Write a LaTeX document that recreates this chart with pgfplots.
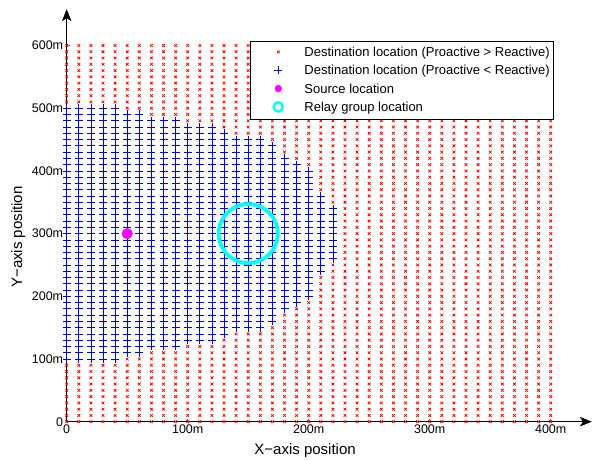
\documentclass[border=0pt]{standalone}
\usepackage{pgfplots}
\pgfplotsset{compat=1.18}
\usepackage{fontspec}
\setmainfont{Liberation Sans}
\usetikzlibrary{arrows.meta}
\definecolor{srcmag}{rgb}{1,0,1}
\definecolor{relaycyan}{rgb}{0,1,1}
\definecolor{ptred}{rgb}{1,0,0}
\definecolor{ptblue}{rgb}{0,0,1}

\begin{document}
\begin{tikzpicture}
\begin{axis}[
  at={(0,0)}, anchor=origin,
  x=1.21pt, y=0.627pt,
  xmin=0, xmax=434, ymin=0, ymax=658,
  axis lines=left,
  axis line style={line width=1pt, -{Stealth[length=12pt,width=9.5pt,inset=3pt]}},
  clip=false,
  xtick={0,100,200,300,400}, xticklabels={0,100m,200m,300m,400m},
  ytick={0,100,200,300,400,500,600}, yticklabels={0,100m,200m,300m,400m,500m,600m},
  tick align=inside, major tick length=3pt, tick style={black!60, line width=0.6pt},
  tick label style={font=\fontsize{12.5}{14}\selectfont},
  xlabel={X−axis position}, ylabel={Y−axis position},
  label style={font=\fontsize{15}{17}\selectfont},
  x label style={at={([yshift=-29pt]axis cs:197,0)}, anchor=center},
  y label style={at={([xshift=-48.5pt]axis cs:0,294.6)}, anchor=center},
  legend cell align=left,
  legend image code/.code={\path (-24pt,0pt) (9pt,0pt); \draw[#1, only marks] plot coordinates {(0pt,1.2pt)};},
  legend style={at={(axis cs:401.9,606.5)}, anchor=north east, draw=black, fill=white,
    font=\fontsize{13}{15}\selectfont, inner xsep=3pt, inner ysep=5.3pt, row sep=5.8pt,
    nodes={inner sep=0pt, text height=9.5pt, text depth=3pt},
    /tikz/every odd column/.append style={column sep=16pt}},
]

% grid points where the proactive scheme costs more
\addplot[only marks, mark=x, ptred, mark size=1.9pt, line width=0.75pt] table {
x y
0 0
0 10
0 20
0 30
0 40
0 50
0 60
0 70
0 80
0 90
0 510
0 520
0 530
0 540
0 550
0 560
0 570
0 580
0 590
0 600
10 0
10 10
10 20
10 30
10 40
10 50
10 60
10 70
10 80
10 90
10 510
10 520
10 530
10 540
10 550
10 560
10 570
10 580
10 590
10 600
20 0
20 10
20 20
20 30
20 40
20 50
20 60
20 70
20 80
20 90
20 510
20 520
20 530
20 540
20 550
20 560
20 570
20 580
20 590
20 600
30 0
30 10
30 20
30 30
30 40
30 50
30 60
30 70
30 80
30 90
30 510
30 520
30 530
30 540
30 550
30 560
30 570
30 580
30 590
30 600
40 0
40 10
40 20
40 30
40 40
40 50
40 60
40 70
40 80
40 90
40 510
40 520
40 530
40 540
40 550
40 560
40 570
40 580
40 590
40 600
50 0
50 10
50 20
50 30
50 40
50 50
50 60
50 70
50 80
50 90
50 100
50 500
50 510
50 520
50 530
50 540
50 550
50 560
50 570
50 580
50 590
50 600
60 0
60 10
60 20
60 30
60 40
60 50
60 60
60 70
60 80
60 90
60 100
60 500
60 510
60 520
60 530
60 540
60 550
60 560
60 570
60 580
60 590
60 600
70 0
70 10
70 20
70 30
70 40
70 50
70 60
70 70
70 80
70 90
70 100
70 110
70 490
70 500
70 510
70 520
70 530
70 540
70 550
70 560
70 570
70 580
70 590
70 600
80 0
80 10
80 20
80 30
80 40
80 50
80 60
80 70
80 80
80 90
80 100
80 110
80 490
80 500
80 510
80 520
80 530
80 540
80 550
80 560
80 570
80 580
80 590
80 600
90 0
90 10
90 20
90 30
90 40
90 50
90 60
90 70
90 80
90 90
90 100
90 110
90 490
90 500
90 510
90 520
90 530
90 540
90 550
90 560
90 570
90 580
90 590
90 600
100 0
100 10
100 20
100 30
100 40
100 50
100 60
100 70
100 80
100 90
100 100
100 110
100 120
100 480
100 490
100 500
100 510
100 520
100 530
100 540
100 550
100 560
100 570
100 580
100 590
100 600
110 0
110 10
110 20
110 30
110 40
110 50
110 60
110 70
110 80
110 90
110 100
110 110
110 120
110 480
110 490
110 500
110 510
110 520
110 530
110 540
110 550
110 560
110 570
110 580
110 590
110 600
120 0
120 10
120 20
120 30
120 40
120 50
120 60
120 70
120 80
120 90
120 100
120 110
120 120
120 480
120 490
120 500
120 510
120 520
120 530
120 540
120 550
120 560
120 570
120 580
120 590
120 600
130 0
130 10
130 20
130 30
130 40
130 50
130 60
130 70
130 80
130 90
130 100
130 110
130 120
130 130
130 470
130 480
130 490
130 500
130 510
130 520
130 530
130 540
130 550
130 560
130 570
130 580
130 590
130 600
140 0
140 10
140 20
140 30
140 40
140 50
140 60
140 70
140 80
140 90
140 100
140 110
140 120
140 130
140 140
140 460
140 470
140 480
140 490
140 500
140 510
140 520
140 530
140 540
140 550
140 560
140 570
140 580
140 590
140 600
150 0
150 10
150 20
150 30
150 40
150 50
150 60
150 70
150 80
150 90
150 100
150 110
150 120
150 130
150 140
150 460
150 470
150 480
150 490
150 500
150 510
150 520
150 530
150 540
150 550
150 560
150 570
150 580
150 590
150 600
160 0
160 10
160 20
160 30
160 40
160 50
160 60
160 70
160 80
160 90
160 100
160 110
160 120
160 130
160 140
160 460
160 470
160 480
160 490
160 500
160 510
160 520
160 530
160 540
160 550
160 560
160 570
160 580
160 590
160 600
170 0
170 10
170 20
170 30
170 40
170 50
170 60
170 70
170 80
170 90
170 100
170 110
170 120
170 130
170 140
170 150
170 450
170 460
170 470
170 480
170 490
170 500
170 510
170 520
170 530
170 540
170 550
170 560
170 570
170 580
170 590
170 600
180 0
180 10
180 20
180 30
180 40
180 50
180 60
180 70
180 80
180 90
180 100
180 110
180 120
180 130
180 140
180 150
180 160
180 170
180 430
180 440
180 450
180 460
180 470
180 480
180 490
180 500
180 510
180 520
180 530
180 540
180 550
180 560
180 570
180 580
180 590
180 600
190 0
190 10
190 20
190 30
190 40
190 50
190 60
190 70
190 80
190 90
190 100
190 110
190 120
190 130
190 140
190 150
190 160
190 170
190 180
190 420
190 430
190 440
190 450
190 460
190 470
190 480
190 490
190 500
190 510
190 520
190 530
190 540
190 550
190 560
190 570
190 580
190 590
190 600
200 0
200 10
200 20
200 30
200 40
200 50
200 60
200 70
200 80
200 90
200 100
200 110
200 120
200 130
200 140
200 150
200 160
200 170
200 180
200 190
200 410
200 420
200 430
200 440
200 450
200 460
200 470
200 480
200 490
200 500
200 510
200 520
200 530
200 540
200 550
200 560
200 570
200 580
200 590
200 600
210 0
210 10
210 20
210 30
210 40
210 50
210 60
210 70
210 80
210 90
210 100
210 110
210 120
210 130
210 140
210 150
210 160
210 170
210 180
210 190
210 200
210 210
210 220
210 230
210 370
210 380
210 390
210 400
210 410
210 420
210 430
210 440
210 450
210 460
210 470
210 480
210 490
210 500
210 510
210 520
210 530
210 540
210 550
210 560
210 570
210 580
210 590
210 600
220 0
220 10
220 20
220 30
220 40
220 50
220 60
220 70
220 80
220 90
220 100
220 110
220 120
220 130
220 140
220 150
220 160
220 170
220 180
220 190
220 200
220 210
220 220
220 230
220 240
220 250
220 350
220 360
220 370
220 380
220 390
220 400
220 410
220 420
220 430
220 440
220 450
220 460
220 470
220 480
220 490
220 500
220 510
220 520
220 530
220 540
220 550
220 560
220 570
220 580
220 590
220 600
230 0
230 10
230 20
230 30
230 40
230 50
230 60
230 70
230 80
230 90
230 100
230 110
230 120
230 130
230 140
230 150
230 160
230 170
230 180
230 190
230 200
230 210
230 220
230 230
230 240
230 250
230 260
230 270
230 280
230 290
230 300
230 310
230 320
230 330
230 340
230 350
230 360
230 370
230 380
230 390
230 400
230 410
230 420
230 430
230 440
230 450
230 460
230 470
230 480
230 490
230 500
230 510
230 520
230 530
230 540
230 550
230 560
230 570
230 580
230 590
230 600
240 0
240 10
240 20
240 30
240 40
240 50
240 60
240 70
240 80
240 90
240 100
240 110
240 120
240 130
240 140
240 150
240 160
240 170
240 180
240 190
240 200
240 210
240 220
240 230
240 240
240 250
240 260
240 270
240 280
240 290
240 300
240 310
240 320
240 330
240 340
240 350
240 360
240 370
240 380
240 390
240 400
240 410
240 420
240 430
240 440
240 450
240 460
240 470
240 480
240 490
240 500
240 510
240 520
240 530
240 540
240 550
240 560
240 570
240 580
240 590
240 600
250 0
250 10
250 20
250 30
250 40
250 50
250 60
250 70
250 80
250 90
250 100
250 110
250 120
250 130
250 140
250 150
250 160
250 170
250 180
250 190
250 200
250 210
250 220
250 230
250 240
250 250
250 260
250 270
250 280
250 290
250 300
250 310
250 320
250 330
250 340
250 350
250 360
250 370
250 380
250 390
250 400
250 410
250 420
250 430
250 440
250 450
250 460
250 470
250 480
250 490
250 500
250 510
250 520
250 530
250 540
250 550
250 560
250 570
250 580
250 590
250 600
260 0
260 10
260 20
260 30
260 40
260 50
260 60
260 70
260 80
260 90
260 100
260 110
260 120
260 130
260 140
260 150
260 160
260 170
260 180
260 190
260 200
260 210
260 220
260 230
260 240
260 250
260 260
260 270
260 280
260 290
260 300
260 310
260 320
260 330
260 340
260 350
260 360
260 370
260 380
260 390
260 400
260 410
260 420
260 430
260 440
260 450
260 460
260 470
260 480
260 490
260 500
260 510
260 520
260 530
260 540
260 550
260 560
260 570
260 580
260 590
260 600
270 0
270 10
270 20
270 30
270 40
270 50
270 60
270 70
270 80
270 90
270 100
270 110
270 120
270 130
270 140
270 150
270 160
270 170
270 180
270 190
270 200
270 210
270 220
270 230
270 240
270 250
270 260
270 270
270 280
270 290
270 300
270 310
270 320
270 330
270 340
270 350
270 360
270 370
270 380
270 390
270 400
270 410
270 420
270 430
270 440
270 450
270 460
270 470
270 480
270 490
270 500
270 510
270 520
270 530
270 540
270 550
270 560
270 570
270 580
270 590
270 600
280 0
280 10
280 20
280 30
280 40
280 50
280 60
280 70
280 80
280 90
280 100
280 110
280 120
280 130
280 140
280 150
280 160
280 170
280 180
280 190
280 200
280 210
280 220
280 230
280 240
280 250
280 260
280 270
280 280
280 290
280 300
280 310
280 320
280 330
280 340
280 350
280 360
280 370
280 380
280 390
280 400
280 410
280 420
280 430
280 440
280 450
280 460
280 470
280 480
280 490
280 500
280 510
280 520
280 530
280 540
280 550
280 560
280 570
280 580
280 590
280 600
290 0
290 10
290 20
290 30
290 40
290 50
290 60
290 70
290 80
290 90
290 100
290 110
290 120
290 130
290 140
290 150
290 160
290 170
290 180
290 190
290 200
290 210
290 220
290 230
290 240
290 250
290 260
290 270
290 280
290 290
290 300
290 310
290 320
290 330
290 340
290 350
290 360
290 370
290 380
290 390
290 400
290 410
290 420
290 430
290 440
290 450
290 460
290 470
290 480
290 490
290 500
290 510
290 520
290 530
290 540
290 550
290 560
290 570
290 580
290 590
290 600
300 0
300 10
300 20
300 30
300 40
300 50
300 60
300 70
300 80
300 90
300 100
300 110
300 120
300 130
300 140
300 150
300 160
300 170
300 180
300 190
300 200
300 210
300 220
300 230
300 240
300 250
300 260
300 270
300 280
300 290
300 300
300 310
300 320
300 330
300 340
300 350
300 360
300 370
300 380
300 390
300 400
300 410
300 420
300 430
300 440
300 450
300 460
300 470
300 480
300 490
300 500
300 510
300 520
300 530
300 540
300 550
300 560
300 570
300 580
300 590
300 600
310 0
310 10
310 20
310 30
310 40
310 50
310 60
310 70
310 80
310 90
310 100
310 110
310 120
310 130
310 140
310 150
310 160
310 170
310 180
310 190
310 200
310 210
310 220
310 230
310 240
310 250
310 260
310 270
310 280
310 290
310 300
310 310
310 320
310 330
310 340
310 350
310 360
310 370
310 380
310 390
310 400
310 410
310 420
310 430
310 440
310 450
310 460
310 470
310 480
310 490
310 500
310 510
310 520
310 530
310 540
310 550
310 560
310 570
310 580
310 590
310 600
320 0
320 10
320 20
320 30
320 40
320 50
320 60
320 70
320 80
320 90
320 100
320 110
320 120
320 130
320 140
320 150
320 160
320 170
320 180
320 190
320 200
320 210
320 220
320 230
320 240
320 250
320 260
320 270
320 280
320 290
320 300
320 310
320 320
320 330
320 340
320 350
320 360
320 370
320 380
320 390
320 400
320 410
320 420
320 430
320 440
320 450
320 460
320 470
320 480
320 490
320 500
320 510
320 520
320 530
320 540
320 550
320 560
320 570
320 580
320 590
320 600
330 0
330 10
330 20
330 30
330 40
330 50
330 60
330 70
330 80
330 90
330 100
330 110
330 120
330 130
330 140
330 150
330 160
330 170
330 180
330 190
330 200
330 210
330 220
330 230
330 240
330 250
330 260
330 270
330 280
330 290
330 300
330 310
330 320
330 330
330 340
330 350
330 360
330 370
330 380
330 390
330 400
330 410
330 420
330 430
330 440
330 450
330 460
330 470
330 480
330 490
330 500
330 510
330 520
330 530
330 540
330 550
330 560
330 570
330 580
330 590
330 600
340 0
340 10
340 20
340 30
340 40
340 50
340 60
340 70
340 80
340 90
340 100
340 110
340 120
340 130
340 140
340 150
340 160
340 170
340 180
340 190
340 200
340 210
340 220
340 230
340 240
340 250
340 260
340 270
340 280
340 290
340 300
340 310
340 320
340 330
340 340
340 350
340 360
340 370
340 380
340 390
340 400
340 410
340 420
340 430
340 440
340 450
340 460
340 470
340 480
340 490
340 500
340 510
340 520
340 530
340 540
340 550
340 560
340 570
340 580
340 590
340 600
350 0
350 10
350 20
350 30
350 40
350 50
350 60
350 70
350 80
350 90
350 100
350 110
350 120
350 130
350 140
350 150
350 160
350 170
350 180
350 190
350 200
350 210
350 220
350 230
350 240
350 250
350 260
350 270
350 280
350 290
350 300
350 310
350 320
350 330
350 340
350 350
350 360
350 370
350 380
350 390
350 400
350 410
350 420
350 430
350 440
350 450
350 460
350 470
350 480
350 490
350 500
350 510
350 520
350 530
350 540
350 550
350 560
350 570
350 580
350 590
350 600
360 0
360 10
360 20
360 30
360 40
360 50
360 60
360 70
360 80
360 90
360 100
360 110
360 120
360 130
360 140
360 150
360 160
360 170
360 180
360 190
360 200
360 210
360 220
360 230
360 240
360 250
360 260
360 270
360 280
360 290
360 300
360 310
360 320
360 330
360 340
360 350
360 360
360 370
360 380
360 390
360 400
360 410
360 420
360 430
360 440
360 450
360 460
360 470
360 480
360 490
360 500
360 510
360 520
360 530
360 540
360 550
360 560
360 570
360 580
360 590
360 600
370 0
370 10
370 20
370 30
370 40
370 50
370 60
370 70
370 80
370 90
370 100
370 110
370 120
370 130
370 140
370 150
370 160
370 170
370 180
370 190
370 200
370 210
370 220
370 230
370 240
370 250
370 260
370 270
370 280
370 290
370 300
370 310
370 320
370 330
370 340
370 350
370 360
370 370
370 380
370 390
370 400
370 410
370 420
370 430
370 440
370 450
370 460
370 470
370 480
370 490
370 500
370 510
370 520
370 530
370 540
370 550
370 560
370 570
370 580
370 590
370 600
380 0
380 10
380 20
380 30
380 40
380 50
380 60
380 70
380 80
380 90
380 100
380 110
380 120
380 130
380 140
380 150
380 160
380 170
380 180
380 190
380 200
380 210
380 220
380 230
380 240
380 250
380 260
380 270
380 280
380 290
380 300
380 310
380 320
380 330
380 340
380 350
380 360
380 370
380 380
380 390
380 400
380 410
380 420
380 430
380 440
380 450
380 460
380 470
380 480
380 490
380 500
380 510
380 520
380 530
380 540
380 550
380 560
380 570
380 580
380 590
380 600
390 0
390 10
390 20
390 30
390 40
390 50
390 60
390 70
390 80
390 90
390 100
390 110
390 120
390 130
390 140
390 150
390 160
390 170
390 180
390 190
390 200
390 210
390 220
390 230
390 240
390 250
390 260
390 270
390 280
390 290
390 300
390 310
390 320
390 330
390 340
390 350
390 360
390 370
390 380
390 390
390 400
390 410
390 420
390 430
390 440
390 450
390 460
390 470
390 480
390 490
390 500
390 510
390 520
390 530
390 540
390 550
390 560
390 570
390 580
390 590
390 600
400 0
400 10
400 20
400 30
400 40
400 50
400 60
400 70
400 80
400 90
400 100
400 110
400 120
400 130
400 140
400 150
400 160
400 170
400 180
400 190
400 200
400 210
400 220
400 230
400 240
400 250
400 260
400 270
400 280
400 290
400 300
400 310
400 320
400 330
400 340
400 350
400 360
400 370
400 380
400 390
400 400
400 410
400 420
400 430
400 440
400 450
400 460
400 470
400 480
400 490
400 500
400 510
400 520
400 530
400 540
400 550
400 560
400 570
400 580
400 590
400 600
};
\addlegendentry{Destination location (Proactive > Reactive)}

% grid points where the proactive scheme costs less
\addplot[only marks, mark=+, ptblue, mark size=4pt, line width=0.7pt] table {
x y
0 100
0 110
0 120
0 130
0 140
0 150
0 160
0 170
0 180
0 190
0 200
0 210
0 220
0 230
0 240
0 250
0 260
0 270
0 280
0 290
0 300
0 310
0 320
0 330
0 340
0 350
0 360
0 370
0 380
0 390
0 400
0 410
0 420
0 430
0 440
0 450
0 460
0 470
0 480
0 490
0 500
10 100
10 110
10 120
10 130
10 140
10 150
10 160
10 170
10 180
10 190
10 200
10 210
10 220
10 230
10 240
10 250
10 260
10 270
10 280
10 290
10 300
10 310
10 320
10 330
10 340
10 350
10 360
10 370
10 380
10 390
10 400
10 410
10 420
10 430
10 440
10 450
10 460
10 470
10 480
10 490
10 500
20 100
20 110
20 120
20 130
20 140
20 150
20 160
20 170
20 180
20 190
20 200
20 210
20 220
20 230
20 240
20 250
20 260
20 270
20 280
20 290
20 300
20 310
20 320
20 330
20 340
20 350
20 360
20 370
20 380
20 390
20 400
20 410
20 420
20 430
20 440
20 450
20 460
20 470
20 480
20 490
20 500
30 100
30 110
30 120
30 130
30 140
30 150
30 160
30 170
30 180
30 190
30 200
30 210
30 220
30 230
30 240
30 250
30 260
30 270
30 280
30 290
30 300
30 310
30 320
30 330
30 340
30 350
30 360
30 370
30 380
30 390
30 400
30 410
30 420
30 430
30 440
30 450
30 460
30 470
30 480
30 490
30 500
40 100
40 110
40 120
40 130
40 140
40 150
40 160
40 170
40 180
40 190
40 200
40 210
40 220
40 230
40 240
40 250
40 260
40 270
40 280
40 290
40 300
40 310
40 320
40 330
40 340
40 350
40 360
40 370
40 380
40 390
40 400
40 410
40 420
40 430
40 440
40 450
40 460
40 470
40 480
40 490
40 500
50 110
50 120
50 130
50 140
50 150
50 160
50 170
50 180
50 190
50 200
50 210
50 220
50 230
50 240
50 250
50 260
50 270
50 280
50 290
50 300
50 310
50 320
50 330
50 340
50 350
50 360
50 370
50 380
50 390
50 400
50 410
50 420
50 430
50 440
50 450
50 460
50 470
50 480
50 490
60 110
60 120
60 130
60 140
60 150
60 160
60 170
60 180
60 190
60 200
60 210
60 220
60 230
60 240
60 250
60 260
60 270
60 280
60 290
60 300
60 310
60 320
60 330
60 340
60 350
60 360
60 370
60 380
60 390
60 400
60 410
60 420
60 430
60 440
60 450
60 460
60 470
60 480
60 490
70 120
70 130
70 140
70 150
70 160
70 170
70 180
70 190
70 200
70 210
70 220
70 230
70 240
70 250
70 260
70 270
70 280
70 290
70 300
70 310
70 320
70 330
70 340
70 350
70 360
70 370
70 380
70 390
70 400
70 410
70 420
70 430
70 440
70 450
70 460
70 470
70 480
80 120
80 130
80 140
80 150
80 160
80 170
80 180
80 190
80 200
80 210
80 220
80 230
80 240
80 250
80 260
80 270
80 280
80 290
80 300
80 310
80 320
80 330
80 340
80 350
80 360
80 370
80 380
80 390
80 400
80 410
80 420
80 430
80 440
80 450
80 460
80 470
80 480
90 120
90 130
90 140
90 150
90 160
90 170
90 180
90 190
90 200
90 210
90 220
90 230
90 240
90 250
90 260
90 270
90 280
90 290
90 300
90 310
90 320
90 330
90 340
90 350
90 360
90 370
90 380
90 390
90 400
90 410
90 420
90 430
90 440
90 450
90 460
90 470
90 480
100 130
100 140
100 150
100 160
100 170
100 180
100 190
100 200
100 210
100 220
100 230
100 240
100 250
100 260
100 270
100 280
100 290
100 300
100 310
100 320
100 330
100 340
100 350
100 360
100 370
100 380
100 390
100 400
100 410
100 420
100 430
100 440
100 450
100 460
100 470
110 130
110 140
110 150
110 160
110 170
110 180
110 190
110 200
110 210
110 220
110 230
110 240
110 250
110 260
110 270
110 280
110 290
110 300
110 310
110 320
110 330
110 340
110 350
110 360
110 370
110 380
110 390
110 400
110 410
110 420
110 430
110 440
110 450
110 460
110 470
120 130
120 140
120 150
120 160
120 170
120 180
120 190
120 200
120 210
120 220
120 230
120 240
120 250
120 260
120 270
120 280
120 290
120 300
120 310
120 320
120 330
120 340
120 350
120 360
120 370
120 380
120 390
120 400
120 410
120 420
120 430
120 440
120 450
120 460
120 470
130 140
130 150
130 160
130 170
130 180
130 190
130 200
130 210
130 220
130 230
130 240
130 250
130 260
130 270
130 280
130 290
130 300
130 310
130 320
130 330
130 340
130 350
130 360
130 370
130 380
130 390
130 400
130 410
130 420
130 430
130 440
130 450
130 460
140 150
140 160
140 170
140 180
140 190
140 200
140 210
140 220
140 230
140 240
140 250
140 260
140 270
140 280
140 290
140 300
140 310
140 320
140 330
140 340
140 350
140 360
140 370
140 380
140 390
140 400
140 410
140 420
140 430
140 440
140 450
150 150
150 160
150 170
150 180
150 190
150 200
150 210
150 220
150 230
150 240
150 250
150 260
150 270
150 280
150 290
150 300
150 310
150 320
150 330
150 340
150 350
150 360
150 370
150 380
150 390
150 400
150 410
150 420
150 430
150 440
150 450
160 150
160 160
160 170
160 180
160 190
160 200
160 210
160 220
160 230
160 240
160 250
160 260
160 270
160 280
160 290
160 300
160 310
160 320
160 330
160 340
160 350
160 360
160 370
160 380
160 390
160 400
160 410
160 420
160 430
160 440
160 450
170 160
170 170
170 180
170 190
170 200
170 210
170 220
170 230
170 240
170 250
170 260
170 270
170 280
170 290
170 300
170 310
170 320
170 330
170 340
170 350
170 360
170 370
170 380
170 390
170 400
170 410
170 420
170 430
170 440
180 180
180 190
180 200
180 210
180 220
180 230
180 240
180 250
180 260
180 270
180 280
180 290
180 300
180 310
180 320
180 330
180 340
180 350
180 360
180 370
180 380
180 390
180 400
180 410
180 420
190 190
190 200
190 210
190 220
190 230
190 240
190 250
190 260
190 270
190 280
190 290
190 300
190 310
190 320
190 330
190 340
190 350
190 360
190 370
190 380
190 390
190 400
190 410
200 200
200 210
200 220
200 230
200 240
200 250
200 260
200 270
200 280
200 290
200 300
200 310
200 320
200 330
200 340
200 350
200 360
200 370
200 380
200 390
200 400
210 240
210 250
210 260
210 270
210 280
210 290
210 300
210 310
210 320
210 330
210 340
210 350
210 360
220 260
220 270
220 280
220 290
220 300
220 310
220 320
220 330
220 340
};
\addlegendentry{Destination location (Proactive < Reactive)}

% source node
\addplot[only marks, mark=*, srcmag, mark size=5.3pt, mark options={draw=srcmag, fill=srcmag},
  legend image post style={mark size=3.4pt}] coordinates {(50,300)};
\addlegendentry{Source location}

% relay group
\addplot[only marks, mark=o, relaycyan, mark size=29.5pt, line width=3.8pt,
  legend image post style={mark size=4.6pt, line width=2.4pt}] coordinates {(150,300)};
\addlegendentry{Relay group location}

\end{axis}
\pgfresetboundingbox
\path[use as bounding box] (-66.7pt,-37.3pt) rectangle (526.3pt,421.7pt);
\end{tikzpicture}
\end{document}
